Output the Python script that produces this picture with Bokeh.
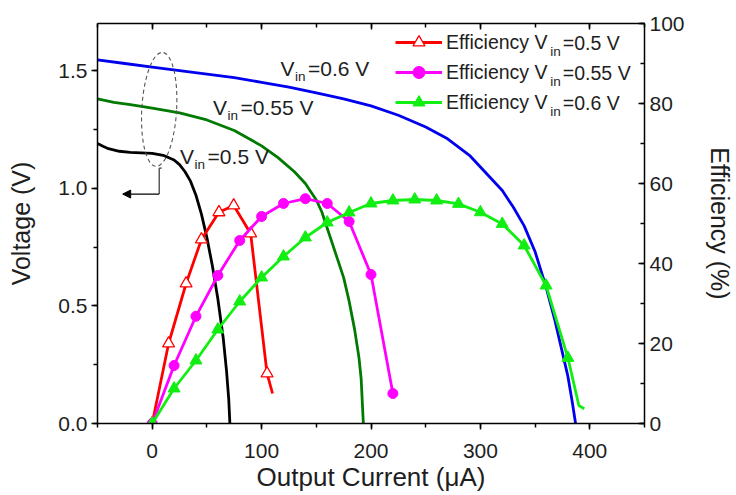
from bokeh.plotting import figure
from bokeh.models import (Range1d, LinearAxis, SingleIntervalTicker, NumeralTickFormatter,
                          Label, Legend, LegendItem, Arrow, NormalHead)
from bokeh.embed import file_html
from bokeh.resources import INLINE

# ---------------- data ----------------
# Output voltage curves (left axis, V) vs output current (uA)
cur_v05 = [-50, -45, -40, -30, -20, -10, 0, 10, 20, 25, 30, 35, 40, 45, 50, 55, 60, 65, 68, 70, 71]
volt_v05 = [1.19, 1.178, 1.168, 1.157, 1.152, 1.15, 1.148, 1.14, 1.12, 1.10, 1.07, 1.03, 0.97,
            0.89, 0.79, 0.67, 0.53, 0.36, 0.22, 0.10, 0.0]

cur_v055 = [-50, -35, -20, 0, 25, 50, 75, 100, 115, 130, 140, 150, 155, 160, 165, 170, 175,
            180, 185, 189, 191, 193]
volt_v055 = [1.38, 1.365, 1.355, 1.34, 1.32, 1.29, 1.245, 1.18, 1.13, 1.07, 1.02, 0.95, 0.90,
             0.83, 0.76, 0.69, 0.62, 0.52, 0.40, 0.28, 0.19, 0.0]

cur_v06 = [-50, -25, 0, 25, 50, 75, 100, 125, 150, 175, 200, 225, 250, 270, 290, 300, 310, 320,
           330, 340, 350, 360, 368, 375, 380, 384, 387]
volt_v06 = [1.545, 1.53, 1.515, 1.50, 1.485, 1.47, 1.45, 1.43, 1.405, 1.38, 1.35, 1.31, 1.26,
            1.21, 1.14, 1.09, 1.04, 0.99, 0.92, 0.84, 0.73, 0.58, 0.44, 0.30, 0.20, 0.09, 0.0]

# Efficiency curves (right axis, %) - marker points
eff_cur_05 = [0, 15, 31, 45, 61, 74.5, 90, 105]
eff_05 = [0, 20, 35, 46, 52.8, 54.5, 47.5, 12.5]
eff_tail_cur_05 = [105, 110]
eff_tail_05 = [12.5, 7.5]

eff_cur_055 = [0, 20, 40, 60, 80, 100, 120, 140, 160, 180, 200, 220]
eff_055 = [0, 14.5, 26.8, 37, 45.75, 51.75, 55, 56.2, 55, 50.5, 37.25, 7.5]

eff_cur_06 = [0, 20, 40, 60, 80, 100, 120, 140, 160, 180, 200, 220, 240, 260, 280, 300, 320, 340, 360, 380]
eff_06 = [0, 8.75, 15.75, 23.5, 30.5, 36.5, 41.75, 46.5, 50.25, 52.75, 55, 55.75, 56, 55.75, 54.9, 52.8, 49.9, 44.5, 34.5, 16.4]
eff_tail_cur_06 = [380, 390, 395]
eff_tail_06 = [16.4, 4.5, 3.7]

x_ticks_major = 100
y_ticks_major = 0.5
eff_ticks_major = 20

legend_rest = ["=0.5 V", "=0.55 V", "=0.6 V"]
curve_rest = ["=0.5 V", "=0.55 V", "=0.6 V"]

# ---------------- styles ----------------
FONT = "Liberation Sans"
TXT = "#1e1e1e"
RED = "#ff0000"
MAG = "#ff00ff"
LGREEN = "#11ee11"
DGREEN = "#007a00"
BLUE = "#0000ee"
BLACK = "#000000"
LW = 2.8
BASE_FIX = 6  # screen px lift so alphabetic baselines land where intended

# Arial / Liberation Sans advance widths (1/1000 em)
AW = {' ': 278, '=': 584, '.': 278, 'V': 667, 'E': 667, 'f': 278, 'i': 222, 'c': 500,
      'e': 556, 'n': 556, 'y': 500}
for d in "0123456789":
    AW[d] = 556


def text_w(s, px):
    return sum(AW.get(ch, 556) for ch in s) * px / 1000.0


p = figure(width=736, height=495, output_backend="svg", toolbar_location=None,
           x_range=Range1d(-50, 450), y_range=Range1d(0, 1.7),
           min_border_left=97, min_border_right=89, min_border_top=23, min_border_bottom=72)
p.extra_y_ranges = {"eff": Range1d(0, 100)}
p.xgrid.visible = False
p.ygrid.visible = False
p.outline_line_color = None
p.background_fill_color = "white"
p.border_fill_color = "white"


def style_axis(ax, tin, tout, label_size="21px"):
    ax.axis_line_color = BLACK
    ax.axis_line_width = 1.5
    ax.major_tick_line_color = BLACK
    ax.minor_tick_line_color = BLACK
    ax.major_tick_line_width = 1.5
    ax.minor_tick_line_width = 1.5
    ax.major_tick_in = tin
    ax.major_tick_out = tout
    ax.minor_tick_in = 4 if tin else 0
    ax.minor_tick_out = 4 if tout else 0
    ax.major_label_text_font = FONT
    ax.major_label_text_font_size = label_size
    ax.major_label_text_color = TXT
    ax.axis_label_text_font = FONT
    ax.axis_label_text_font_style = "normal"
    ax.axis_label_text_color = TXT


xt = SingleIntervalTicker(interval=x_ticks_major, num_minor_ticks=2)
yt = SingleIntervalTicker(interval=y_ticks_major, num_minor_ticks=2)
et = SingleIntervalTicker(interval=eff_ticks_major, num_minor_ticks=2)

xa = p.xaxis[0]
xa.ticker = xt
style_axis(xa, 0, 6)
xa.axis_label = "Output Current (\u03bcA)"
xa.axis_label_text_font_size = "26px"
xa.major_label_standoff = 14
xa.axis_label_standoff = 1

ya = p.yaxis[0]
ya.ticker = yt
ya.formatter = NumeralTickFormatter(format="0.0")
style_axis(ya, 0, 6)
ya.axis_label = "Voltage (V)"
ya.axis_label_text_font_size = "25px"
ya.major_label_standoff = 4
ya.axis_label_standoff = 20

ra = LinearAxis(y_range_name="eff", ticker=et, axis_label="Efficiency (%)")
style_axis(ra, 6, 0)
ra.axis_label_text_font_size = "25px"
ra.major_label_standoff = 5
ra.axis_label_standoff = 18
p.add_layout(ra, "right")

ta = LinearAxis(ticker=SingleIntervalTicker(interval=x_ticks_major, num_minor_ticks=2))
style_axis(ta, 6, 0, label_size="0px")
ta.major_label_standoff = 0
ta.major_label_text_color = None
p.add_layout(ta, "above")

# ---------------- voltage curves ----------------
p.line(cur_v06, volt_v06, line_color=BLUE, line_width=LW)
p.line(cur_v055, volt_v055, line_color=DGREEN, line_width=LW)
p.line(cur_v05, volt_v05, line_color=BLACK, line_width=LW)

# ---------------- efficiency curves ----------------
l05 = p.line(eff_cur_05, eff_05, line_color=RED, line_width=LW, y_range_name="eff")
p.line(eff_tail_cur_05, eff_tail_05, line_color=RED, line_width=LW, y_range_name="eff")
s05 = p.scatter(eff_cur_05, eff_05, marker="triangle", size=12, fill_color="white",
                line_color=RED, line_width=1.3, y_range_name="eff")

l055 = p.line(eff_cur_055, eff_055, line_color=MAG, line_width=LW, y_range_name="eff")
s055 = p.scatter(eff_cur_055, eff_055, marker="circle", size=10, fill_color=MAG,
                 line_color=MAG, y_range_name="eff")

l06 = p.line(eff_cur_06, eff_06, line_color=LGREEN, line_width=LW, y_range_name="eff")
p.line(eff_tail_cur_06, eff_tail_06, line_color=LGREEN, line_width=LW, y_range_name="eff")
s06 = p.scatter(eff_cur_06, eff_06, marker="triangle", size=12, fill_color=LGREEN,
                line_color=LGREEN, y_range_name="eff")

# ---------------- legend ----------------
LEG_FS = 19.5
LEG_X, LEG_TOP, ROW_H = 298, 4, 30
legend = Legend(items=[LegendItem(label="Efficiency V", renderers=[l05, s05]),
                       LegendItem(label="Efficiency V", renderers=[l055, s055]),
                       LegendItem(label="Efficiency V", renderers=[l06, s06])],
                location=(LEG_X, 400 - LEG_TOP - 3 * ROW_H), glyph_width=47,
                glyph_height=ROW_H, label_height=ROW_H,
                spacing=0, padding=0, margin=0, border_line_color=None,
                background_fill_alpha=0, label_standoff=4,
                label_text_font=FONT, label_text_font_size=f"{LEG_FS}px",
                label_text_color=TXT)
p.add_layout(legend, "center")

leg_text_x = LEG_X + 47 + 4
sub_x = leg_text_x + text_w("Efficiency V", LEG_FS) + 2
rest_x = sub_x + text_w("in", 13.5) + 2
for i, rest in enumerate(legend_rest):
    base = 400 - (LEG_TOP + ROW_H / 2 + ROW_H * i) - 6.8 + BASE_FIX
    p.add_layout(Label(x=sub_x, y=base - 8, x_units="screen", y_units="screen", text="in",
                       text_font=FONT, text_font_size="13.5px", text_color=TXT,
                       text_baseline="alphabetic"))
    p.add_layout(Label(x=rest_x, y=base, x_units="screen", y_units="screen", text=rest,
                       text_font=FONT, text_font_size=f"{LEG_FS}px", text_color=TXT,
                       text_baseline="alphabetic"))

# ---------------- curve annotations ----------------
ANN_FS = 21
ann_pos = [(25.5, 1.110), (55.5, 1.318), (117.3, 1.483)]
for (ax_, ay_), rest in zip(ann_pos, curve_rest):
    wv = text_w("V", ANN_FS)
    p.add_layout(Label(x=ax_, y=ay_, y_offset=BASE_FIX, text="V", text_font=FONT,
                       text_font_size=f"{ANN_FS}px", text_color=TXT, text_baseline="alphabetic"))
    p.add_layout(Label(x=ax_, y=ay_, x_offset=wv + 0.5, y_offset=BASE_FIX - 8, text="in",
                       text_font=FONT, text_font_size="13.5px", text_color=TXT,
                       text_baseline="alphabetic"))
    p.add_layout(Label(x=ax_, y=ay_, x_offset=wv + text_w("in", 13.5) + 3, y_offset=BASE_FIX,
                       text=rest, text_font=FONT, text_font_size=f"{ANN_FS}px", text_color=TXT,
                       text_baseline="alphabetic"))

# dashed ellipse grouping the voltage curves and arrow to the left axis
p.ellipse(x=[6.4], y=[1.335], width=[31.8], height=[0.485], angle=-0.058,
          fill_alpha=0, line_color="#555555", line_width=1.1, line_dash="4 3")
p.add_layout(Arrow(end=None, x_start=6.4, y_start=1.085, x_end=6.4, y_end=0.975,
                   line_color="#333333", line_width=1.2))
p.add_layout(Arrow(end=None, x_start=6.4, y_start=1.085, x_end=8.6, y_end=1.085,
                   line_color="#333333", line_width=1.2))
p.add_layout(Arrow(end=NormalHead(size=8, fill_color=BLACK, line_color=BLACK),
                   x_start=6.4, y_start=0.975, x_end=-27, y_end=0.975,
                   line_color=BLACK, line_width=1.2))

open("out.html", "w").write(file_html(p, INLINE))
